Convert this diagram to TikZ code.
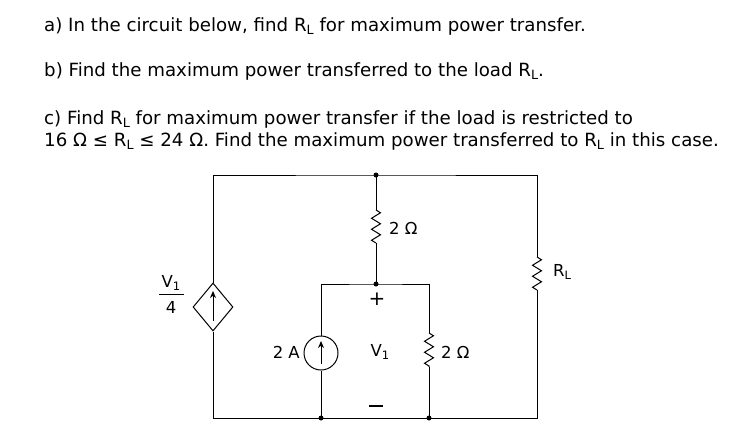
\documentclass[tikz,border=0pt]{standalone}
\usepackage{fontspec}
\setmainfont{DejaVu Sans}
\usetikzlibrary{decorations.pathmorphing,shapes.geometric,arrows.meta}
\newcommand\subs[1]{\raisebox{-0.35ex}{\fontsize{0.7em}{1em}\selectfont #1}}
\begin{document}
\begin{tikzpicture}[x=1pt,y=-1pt,
  wire/.style={line width=1pt},
  res/.style={wire,decorate,decoration={zigzag,segment length=11pt,amplitude=4.5pt}},
  txt/.style={anchor=base west,inner sep=0pt,font=\fontsize{18.2}{20}\selectfont},
  lab/.style={inner sep=0pt,font=\fontsize{16.5}{18}\selectfont},
  dot/.style={circle,fill,inner sep=0pt,minimum size=5pt},
  arr/.style={wire,-{Stealth[length=7pt,width=6pt]}}]
\useasboundingbox (0,0) rectangle (751,424);
\node[txt] (ta) at (44,31) {a) In the circuit below, find R\subs{L} for maximum power transfer.};
\node[txt] (tb) at (44,76) {b) Find the maximum power transferred to the load R\subs{L}.};
\node[txt] (tc) at (44,124) {c) Find R\subs{L} for maximum power transfer if the load is restricted to};
\node[txt] (td) at (44,146) {16 Ω ≤ R\subs{L} ≤ 24 Ω. Find the maximum power transferred to R\subs{L} in this case.};
% coordinates
\coordinate (tl) at (213,175); \coordinate (tm) at (376,175); \coordinate (tr) at (537,175);
\coordinate (bl) at (213,418); \coordinate (b1) at (321,418); \coordinate (b2) at (429,418); \coordinate (br) at (537,418);
\coordinate (im) at (376,284); \coordinate (il) at (321,284); \coordinate (ir) at (429,284);
\coordinate (r1a) at (376,210); \coordinate (r1b) at (376,243);
\coordinate (rla) at (537,257); \coordinate (rlb) at (537,290);
\coordinate (r2a) at (429,333); \coordinate (r2b) at (429,367);
\coordinate (ma) at (369,406); \coordinate (mb) at (383,406);
\node[diamond,draw,wire,minimum width=40pt,minimum height=48pt,inner sep=0pt] (ds) at (213,307) {};
\node[circle,draw,wire,minimum size=34pt,inner sep=0pt] (cs) at (321,353) {};
% wires
\draw[wire] (ds.north) -- (tl) -- (tm) -- (tr) -- (rla);
\draw[res] (rla) -- (rlb);
\draw[wire] (rlb) -- (br) -- (b2) -- (b1) -- (bl) -- (ds.south);
\draw[wire] (tm) -- (r1a); \draw[res] (r1a) -- (r1b); \draw[wire] (r1b) -- (im);
\draw[wire] (cs.north) -- (il) -- (im) -- (ir) -- (r2a);
\draw[res] (r2a) -- (r2b); \draw[wire] (r2b) -- (b2);
\draw[wire] (cs.south) -- (b1);
\draw[arr] (213,321) -- (213,291);
\draw[arr] (321,364) -- (321,341);
\foreach \p in {tm,im,b1,b2} \node[dot] at (\p) {};
% labels
\node[lab,anchor=west] (l1) at (389,228) {2 Ω};
\node[lab,anchor=west] (l2) at (441,352) {2 Ω};
\node[lab,anchor=east] (l3) at (300,352) {2 A};
\node[lab,anchor=west] (l4) at (553,272) {R\subs{L}};
\node[lab] (lp) at (377,299) {\fontsize{20}{20}\selectfont +};
\node[lab] (lv) at (380,352) {V\subs{1}};
\draw[line width=1.6pt] (ma) -- (mb);
\node[lab] (fn) at (171,283) {V\subs{1}};
\node[lab] (fd) at (171,307) {4};
\draw[line width=0.7pt] (159,294) -- (184,294);
\end{tikzpicture}
\end{document}
